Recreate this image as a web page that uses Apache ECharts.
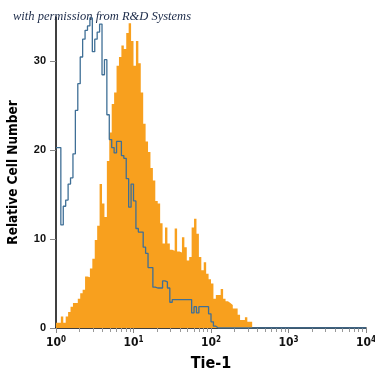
<!DOCTYPE html>
<html>
<head>
<meta charset="utf-8">
<script src="https://cdn.jsdelivr.net/npm/echarts@6/dist/echarts.min.js"></script>
<style>html,body{margin:0;padding:0;background:#fff}#c{width:375px;height:375px}</style>
</head>
<body>
<div id="c"></div>
<script>
// Histogram channels: 32 bins per decade, starting at 10^0
const binsPerDecade = 32;
const xMin = 1, xMax = 10000;
const yTicks = [0, 10, 20, 30];
const xMajorTicks = [1, 10, 100, 1000, 10000];
const xTickExponents = ['0', '1', '2', '3', '4'];

// Tie-1 stained cells (orange, filled)
const stainedCounts = [
  0.6, 0.6, 1.3, 0.6, 1.3, 1.8, 2.4, 2.8, 2.8, 3.3,
  3.9, 4.3, 5.8, 5.7, 6.7, 7.8, 9.9, 11.5, 16.2, 14.0,
  12.5, 18.8, 22.0, 25.2, 26.5, 29.5, 30.5, 31.8, 31.4, 33.2,
  34.3, 32.3, 29.5, 32.3, 29.8, 26.5, 23.0, 21.0, 19.8, 18.0,
  16.6, 14.3, 14.0, 11.8, 9.5, 11.3, 9.5, 8.8, 8.7, 11.2,
  8.6, 8.5, 10.2, 9.1, 7.6, 8.0, 11.3, 12.3, 10.6, 8.0,
  6.5, 7.4, 6.1, 5.5, 5.0, 3.3, 3.7, 3.7, 4.4, 3.3,
  3.0, 2.8, 2.6, 2.2, 2.2, 1.5, 0.9, 0.9, 1.2, 0.7,
  0.7
];

// Isotype control (blue outline)
const controlCounts = [
  20.3, 20.3, 11.6, 13.7, 14.4, 16.2, 16.9, 19.6, 24.5, 27.5,
  30.5, 32.5, 33.5, 34.0, 34.9, 31.1, 32.5, 33.3, 34.2, 28.5,
  30.2, 24.0, 21.2, 20.3, 19.7, 21.0, 21.0, 19.4, 19.1, 16.8,
  13.6, 16.2, 14.3, 11.2, 10.8, 10.8, 9.1, 8.4, 6.8, 6.8,
  4.6, 4.5, 4.5, 4.5, 5.3, 5.2, 4.5, 2.9, 3.2, 3.2,
  3.2, 3.2, 3.2, 3.2, 3.2, 3.2, 1.7, 2.4, 1.7, 2.4,
  2.4, 2.4, 2.4, 1.6, 0.7, 0.2
];

const totalBins = 4 * binsPerDecade;
function binEdge(i) { return Math.pow(10, i / binsPerDecade); }
function toSteps(counts, nBins) {
  const pts = [];
  for (let i = 0; i < nBins; i++) pts.push([binEdge(i), i < counts.length ? counts[i] : 0]);
  pts.push([binEdge(nBins), 0]);
  return pts;
}

const minorTicks = [];
for (let d = 0; d < 4; d++) for (let k = 2; k <= 9; k++) minorTicks.push(k * Math.pow(10, d));

const fontMain = "'Liberation Sans Narrow','DejaVu Sans Condensed','Liberation Sans',sans-serif";

const chart = echarts.init(document.getElementById('c'), null, {renderer: 'canvas'});
chart.setOption({
  animation: false,
  title: {
    text: 'with permission from R&D Systems',
    left: 8, top: 5,
    textStyle: {fontFamily: "'Liberation Serif','DejaVu Serif',serif", fontStyle: 'italic', fontWeight: 'normal', fontSize: 12.5, color: '#1b2a48'}
  },
  grid: {left: 56, right: 9, top: 17, bottom: 47, outerBoundsMode: 'none', containLabel: false},
  xAxis: [{
    type: 'log', min: xMin, max: xMax, logBase: 10,
    name: 'Tie-1', nameLocation: 'middle', nameGap: 28,
    nameTextStyle: {fontFamily: fontMain, fontWeight: 'bold', fontSize: 16, color: '#000'},
    axisLine: {lineStyle: {color: '#000', width: 1.5}},
    axisTick: {customValues: xMajorTicks, length: 5, lineStyle: {color: '#888'}},
    axisLabel: {
      customValues: xMajorTicks, margin: 8,
      formatter: function (v) {
        const e = xTickExponents[xMajorTicks.indexOf(v)] ?? Math.round(Math.log10(v));
        return '10{s|' + e + '}';
      },
      fontFamily: fontMain, fontWeight: 'bold', fontSize: 12, color: '#111',
      rich: {s: {fontFamily: fontMain, fontWeight: 'bold', fontSize: 8, verticalAlign: 'top', padding: [0, 0, 6, 0], color: '#111'}}
    },
    splitLine: {show: false}
  }, {
    type: 'log', min: xMin, max: xMax, logBase: 10, position: 'bottom',
    axisLine: {show: false},
    axisTick: {customValues: minorTicks, length: 4, lineStyle: {color: '#999'}},
    axisLabel: {show: false},
    splitLine: {show: false}
  }],
  yAxis: {
    type: 'value', min: 0, max: 35,
    name: 'Relative Cell Number', nameLocation: 'middle', nameGap: 36,
    nameTextStyle: {fontFamily: fontMain, fontWeight: 'bold', fontSize: 13.5, color: '#000'},
    axisLine: {show: true, lineStyle: {color: '#000', width: 1.5}},
    axisTick: {show: true, customValues: yTicks, length: 6, lineStyle: {color: '#888'}},
    axisLabel: {customValues: yTicks, margin: 10, fontFamily: "'Liberation Sans',Arial,sans-serif", fontWeight: 'bold', fontSize: 11, color: '#111'},
    splitLine: {show: false}
  },
  series: [{
    type: 'line', xAxisIndex: 0, step: 'end', showSymbol: false,
    data: toSteps(stainedCounts, stainedCounts.length),
    lineStyle: {width: 0},
    areaStyle: {color: '#f8a01e', opacity: 1},
    itemStyle: {color: '#f8a01e'},
    z: 2
  }, {
    type: 'line', xAxisIndex: 0, step: 'end', showSymbol: false,
    data: toSteps(controlCounts, totalBins),
    lineStyle: {width: 1.3, color: '#3f6f96'},
    itemStyle: {color: '#3f6f96'},
    z: 3
  }]
});
</script>
</body>
</html>
